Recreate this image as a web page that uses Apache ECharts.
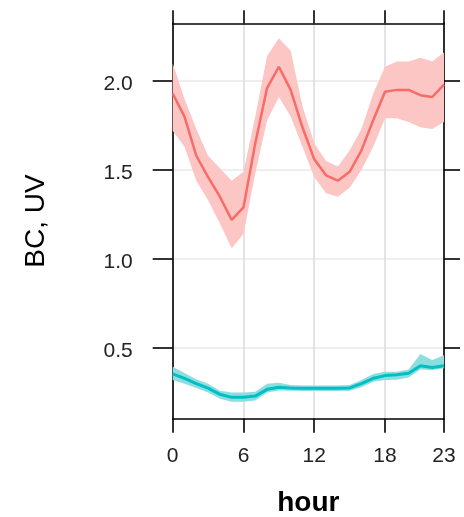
<!DOCTYPE html>
<html>
<head>
<meta charset="utf-8">
<script src="https://cdn.jsdelivr.net/npm/echarts@6/dist/echarts.min.js"></script>
<style>
  html, body { margin: 0; padding: 0; background: #fff; }
  #chart { width: 464px; height: 517px; }
</style>
</head>
<body>
<div id="chart"></div>
<script>
const hours = ['0','1','2','3','4','5','6','7','8','9','10','11','12','13','14','15','16','17','18','19','20','21','22','23'];
const xTickIdx = [0, 6, 12, 18, 23];
const yTicks = [0.5, 1.0, 1.5, 2.0];

const bcMean  = [1.93,1.80,1.58,1.46,1.35,1.22,1.29,1.65,1.96,2.08,1.95,1.74,1.56,1.47,1.44,1.49,1.61,1.78,1.94,1.95,1.95,1.92,1.91,1.98];
const bcLower = [1.72,1.63,1.44,1.33,1.20,1.06,1.14,1.48,1.78,1.91,1.80,1.63,1.46,1.37,1.35,1.40,1.50,1.63,1.79,1.79,1.77,1.74,1.73,1.77];
const bcUpper = [2.10,1.90,1.73,1.58,1.51,1.44,1.49,1.80,2.14,2.24,2.17,1.86,1.65,1.55,1.52,1.61,1.73,1.93,2.08,2.11,2.11,2.13,2.11,2.16];

const uvMean  = [0.355,0.330,0.300,0.275,0.240,0.223,0.223,0.230,0.268,0.280,0.275,0.274,0.274,0.274,0.274,0.276,0.300,0.330,0.345,0.350,0.358,0.400,0.390,0.400];
const uvLower = [0.320,0.300,0.275,0.250,0.215,0.198,0.198,0.205,0.250,0.262,0.260,0.258,0.258,0.258,0.258,0.260,0.280,0.310,0.320,0.322,0.335,0.380,0.377,0.386];
const uvUpper = [0.395,0.360,0.325,0.300,0.260,0.250,0.250,0.255,0.300,0.305,0.292,0.290,0.290,0.290,0.290,0.292,0.320,0.354,0.367,0.367,0.380,0.466,0.433,0.460];

const RED = '#F96B66', RED_FILL = '#FBC6C4';
const TEAL = '#00BFC4', TEAL_FILL = '#8EDEE0';
const FONT = 'Liberation Sans';

function bandSeries(name, lower, upper, fill, z) {
  return {
    name: name, type: 'custom', z: z, silent: true, clip: true,
    xAxisIndex: 0, yAxisIndex: 0,
    data: hours.map((h, i) => [i, lower[i], upper[i]]),
    encode: { x: 0, y: [1, 2] },
    renderItem: function (params, api) {
      if (params.dataIndex !== 0) return null;
      const pts = [];
      for (let i = 0; i < upper.length; i++) pts.push(api.coord([i, upper[i]]));
      for (let i = lower.length - 1; i >= 0; i--) pts.push(api.coord([i, lower[i]]));
      return { type: 'polygon', shape: { points: pts }, style: { fill: fill } };
    }
  };
}

const tickIntervalFn = (idx) => xTickIdx.indexOf(idx) >= 0;

const chart = echarts.init(document.getElementById('chart'), null, { renderer: 'canvas' });
chart.setOption({
  animation: false,
  backgroundColor: '#fff',
  grid: { left: 172.7, right: 20, top: 23.3, bottom: 98.3, containLabel: false, outerBoundsMode: 'none' },
  xAxis: [{
    type: 'category', data: hours, boundaryGap: false, position: 'bottom',
    axisLine: { show: true, onZero: false, lineStyle: { color: '#000', width: 1.6 } },
    axisTick: { show: true, interval: tickIntervalFn, length: 14, lineStyle: { color: '#000', width: 1.6 } },
    axisLabel: { show: true, interval: tickIntervalFn, margin: 27, fontFamily: FONT, fontSize: 21, color: '#222' },
    splitLine: { show: true, interval: tickIntervalFn, lineStyle: { color: '#DEDEDE', width: 1.6 } },
    name: 'hour', nameLocation: 'middle', nameGap: 71,
    nameTextStyle: { fontFamily: FONT, fontSize: 28, fontWeight: 'bold', color: '#000' }
  }, {
    type: 'category', data: hours, boundaryGap: false, position: 'top',
    axisLine: { show: true, onZero: false, lineStyle: { color: '#000', width: 1.6 } },
    axisTick: { show: true, interval: tickIntervalFn, length: 13, lineStyle: { color: '#000', width: 1.6 } },
    axisLabel: { show: false }, splitLine: { show: false }
  }],
  yAxis: [{
    type: 'value', min: 0.103, max: 2.324, position: 'left',
    axisLine: { show: true, onZero: false, lineStyle: { color: '#000', width: 1.6 } },
    axisTick: { show: true, customValues: yTicks, length: 20, lineStyle: { color: '#000', width: 1.6 } },
    axisLabel: { show: true, customValues: yTicks, margin: 40, fontFamily: FONT, fontSize: 21, color: '#222',
      formatter: (v) => '{v|' + v.toFixed(1) + '}',
      rich: { v: { fontFamily: FONT, fontSize: 21, color: '#222', padding: [7, 0, 0, 0] } } },
    splitLine: { show: true, lineStyle: { color: '#E8E8E8', width: 1.5 } },
    name: 'BC, UV', nameLocation: 'middle', nameGap: 122, nameRotate: 90,
    nameTextStyle: { fontFamily: FONT, fontSize: 28, color: '#000' }
  }, {
    type: 'value', min: 0.103, max: 2.324, position: 'right',
    axisLine: { show: true, onZero: false, lineStyle: { color: '#000', width: 1.6 } },
    axisTick: { show: true, customValues: yTicks, length: 16, lineStyle: { color: '#000', width: 1.6 } },
    axisLabel: { show: false }, splitLine: { show: false }
  }],
  series: [
    bandSeries('BC band', bcLower, bcUpper, RED_FILL, 1),
    bandSeries('UV band', uvLower, uvUpper, TEAL_FILL, 1),
    { name: 'BC', type: 'line', data: bcMean, xAxisIndex: 0, yAxisIndex: 0, z: 3,
      symbol: 'none', lineStyle: { color: RED, width: 2.5 } },
    { name: 'UV', type: 'line', data: uvMean, xAxisIndex: 0, yAxisIndex: 0, z: 3,
      symbol: 'none', lineStyle: { color: TEAL, width: 3 } }
  ]
});
</script>
</body>
</html>
